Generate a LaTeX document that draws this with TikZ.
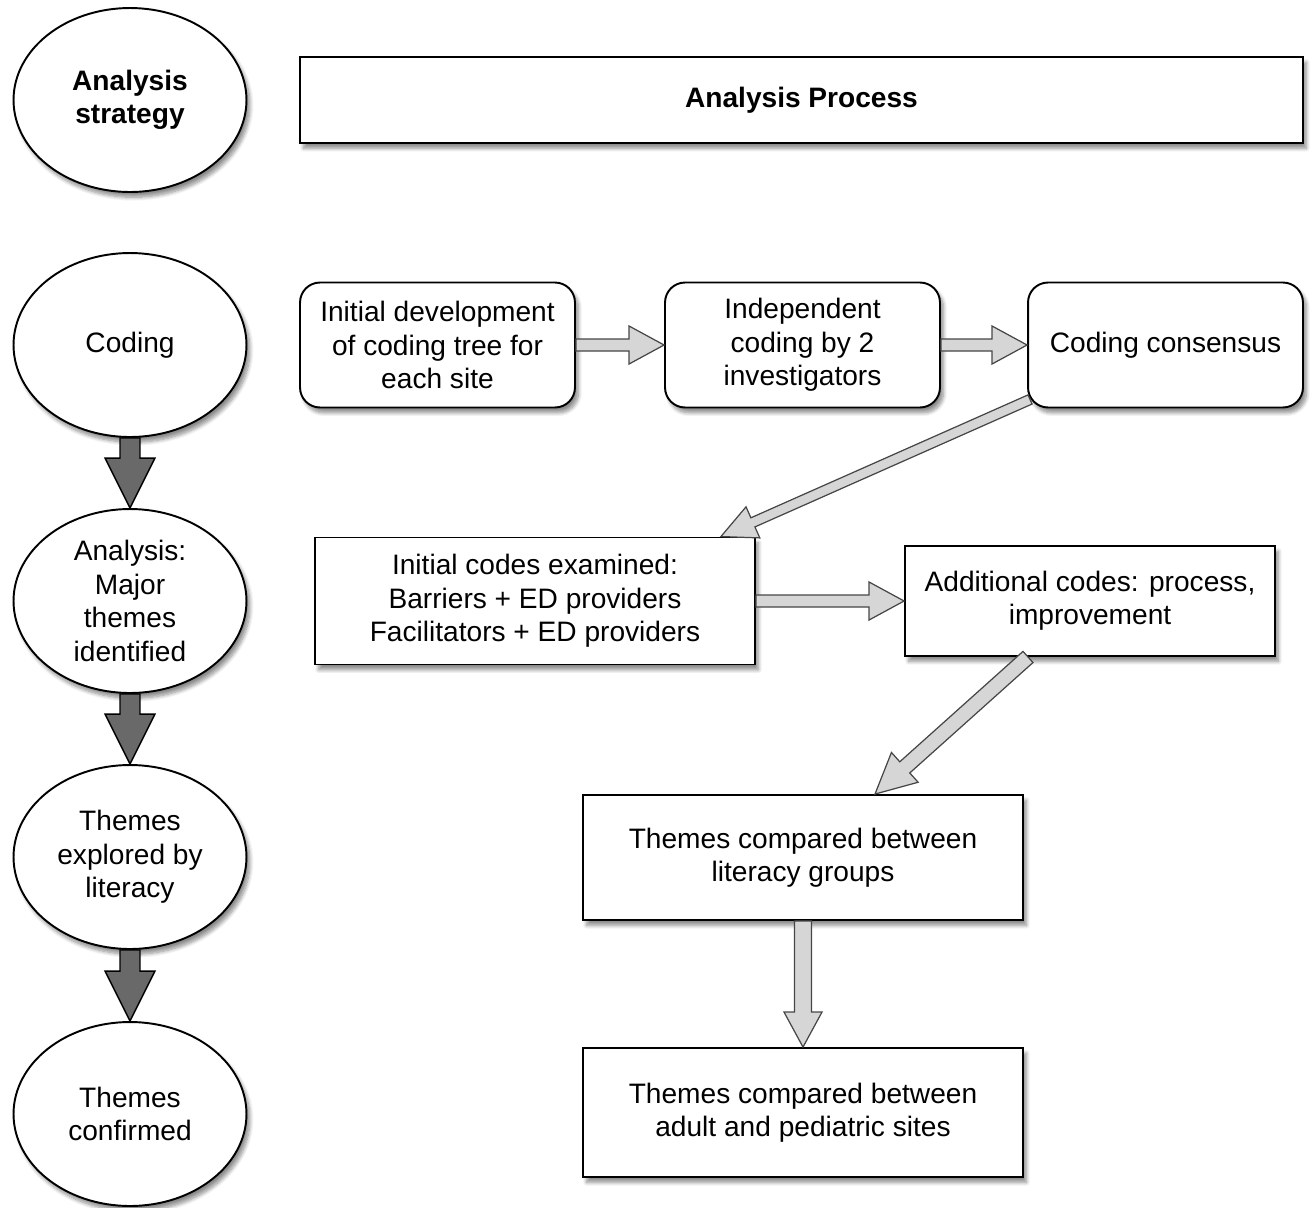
\documentclass[tikz,border=0pt]{standalone}
\usepackage{fontspec}
\setmainfont{Liberation Sans}
\usetikzlibrary{calc,shapes.geometric,shadows.blur}
\definecolor{lightfill}{RGB}{214,214,214}
\definecolor{lightline}{RGB}{70,70,70}
\definecolor{darkfill}{RGB}{105,105,105}
\newcommand\blockarrow[6]{%
  \coordinate (hb) at ($(#3)!#6!(#2)$);
  \filldraw[#1] ($(#2)!#4!90:(#3)$) -- ($(hb)!#4!90:(#3)$) -- ($(hb)!#5!90:(#3)$)
    -- (#3) -- ($(hb)!#5!-90:(#3)$) -- ($(hb)!#4!-90:(#3)$) -- ($(#2)!#4!-90:(#3)$) -- cycle;
}
\begin{document}
\begin{tikzpicture}[x=0.02cm,y=-0.02cm,
  every node/.style={font=\fontsize{16}{19}\selectfont, align=center},
  shad/.style={blur shadow={shadow xshift=2pt, shadow yshift=-3pt, shadow blur steps=8, shadow opacity=45}},
  ell/.style={ellipse, draw, line width=1.1pt, fill=white, inner sep=0pt,
    minimum width=4.66cm, minimum height=3.68cm, shad},
  box/.style={rectangle, draw, line width=1.1pt, fill=white, inner sep=0pt, shad},
  rbox/.style={box, rounded corners=0.4cm, minimum width=5.5cm, minimum height=2.5cm},
  larrow/.style={fill=lightfill, draw=lightline, line width=0.7pt, line join=miter},
  darrow/.style={fill=darkfill, draw=black, line width=0.8pt, line join=miter}]
\useasboundingbox (0,0) rectangle (1313,1208);
% left column
\node[ell] (s0) at (130,100) {\bfseries Analysis\\\bfseries strategy};
\node[ell] (s1) at (130,345) {Coding};
\node[ell] (s2) at (130,601) {Analysis:\\Major\\themes\\identified};
\node[ell] (s3) at (130,857) {Themes\\explored by\\literacy};
\node[ell] (s4) at (130,1114) {Themes\\confirmed};
% header
\node[box, minimum width=20.06cm, minimum height=1.72cm] (hdr) at (801.5,100) {\bfseries Analysis Process};
% row 1
\node[rbox] (b1) at (437.5,345) {Initial development\\of coding tree for\\each site};
\node[rbox] (b2) at (802.5,345) {Independent\\coding by 2\\investigators};
\node[rbox] (b3) at (1165.5,345) {Coding consensus};
% row 2
\node[box, minimum width=8.8cm, minimum height=2.54cm] (c1) at (535,601) {Initial codes examined:\\Barriers + ED providers\\Facilitators + ED providers};
\node[box, minimum width=7.4cm, minimum height=2.2cm] (c2) at (1090,601) {Additional codes: process,\\improvement};
% rows 3,4
\node[box, minimum width=8.8cm, minimum height=2.5cm] (d1) at (803,857.5) {Themes compared between\\literacy groups};
\node[box, minimum width=8.8cm, minimum height=2.58cm] (d2) at (803,1112.5) {Themes compared between\\adult and pediatric sites};
% dark arrows
\blockarrow{darrow}{s1.south}{s2.north}{0.2cm}{0.5cm}{1cm}
\blockarrow{darrow}{s2.south}{s3.north}{0.2cm}{0.5cm}{1cm}
\blockarrow{darrow}{s3.south}{s4.north}{0.2cm}{0.5cm}{1cm}
% light arrows
\blockarrow{larrow}{b1.east}{b2.west}{0.12cm}{0.38cm}{0.7cm}
\blockarrow{larrow}{b2.east}{b3.west}{0.12cm}{0.38cm}{0.7cm}
\blockarrow{larrow}{c1.east}{c2.west}{0.12cm}{0.38cm}{0.7cm}
\blockarrow{larrow}{d1.south}{d2.north}{0.17cm}{0.38cm}{0.7cm}
\coordinate (p1) at ($(b3.south west)+(3,-9)$);
\coordinate (p2) at ($(c1.north east)+(-35,0)$);
\blockarrow{larrow}{p1}{p2}{0.1cm}{0.34cm}{0.7cm}
\coordinate (p3) at ($(c2.south)+(-62,0)$);
\coordinate (p4) at ($(d1.north)+(72,0)$);
\blockarrow{larrow}{p3}{p4}{0.15cm}{0.4cm}{0.8cm}
\end{tikzpicture}
\end{document}
